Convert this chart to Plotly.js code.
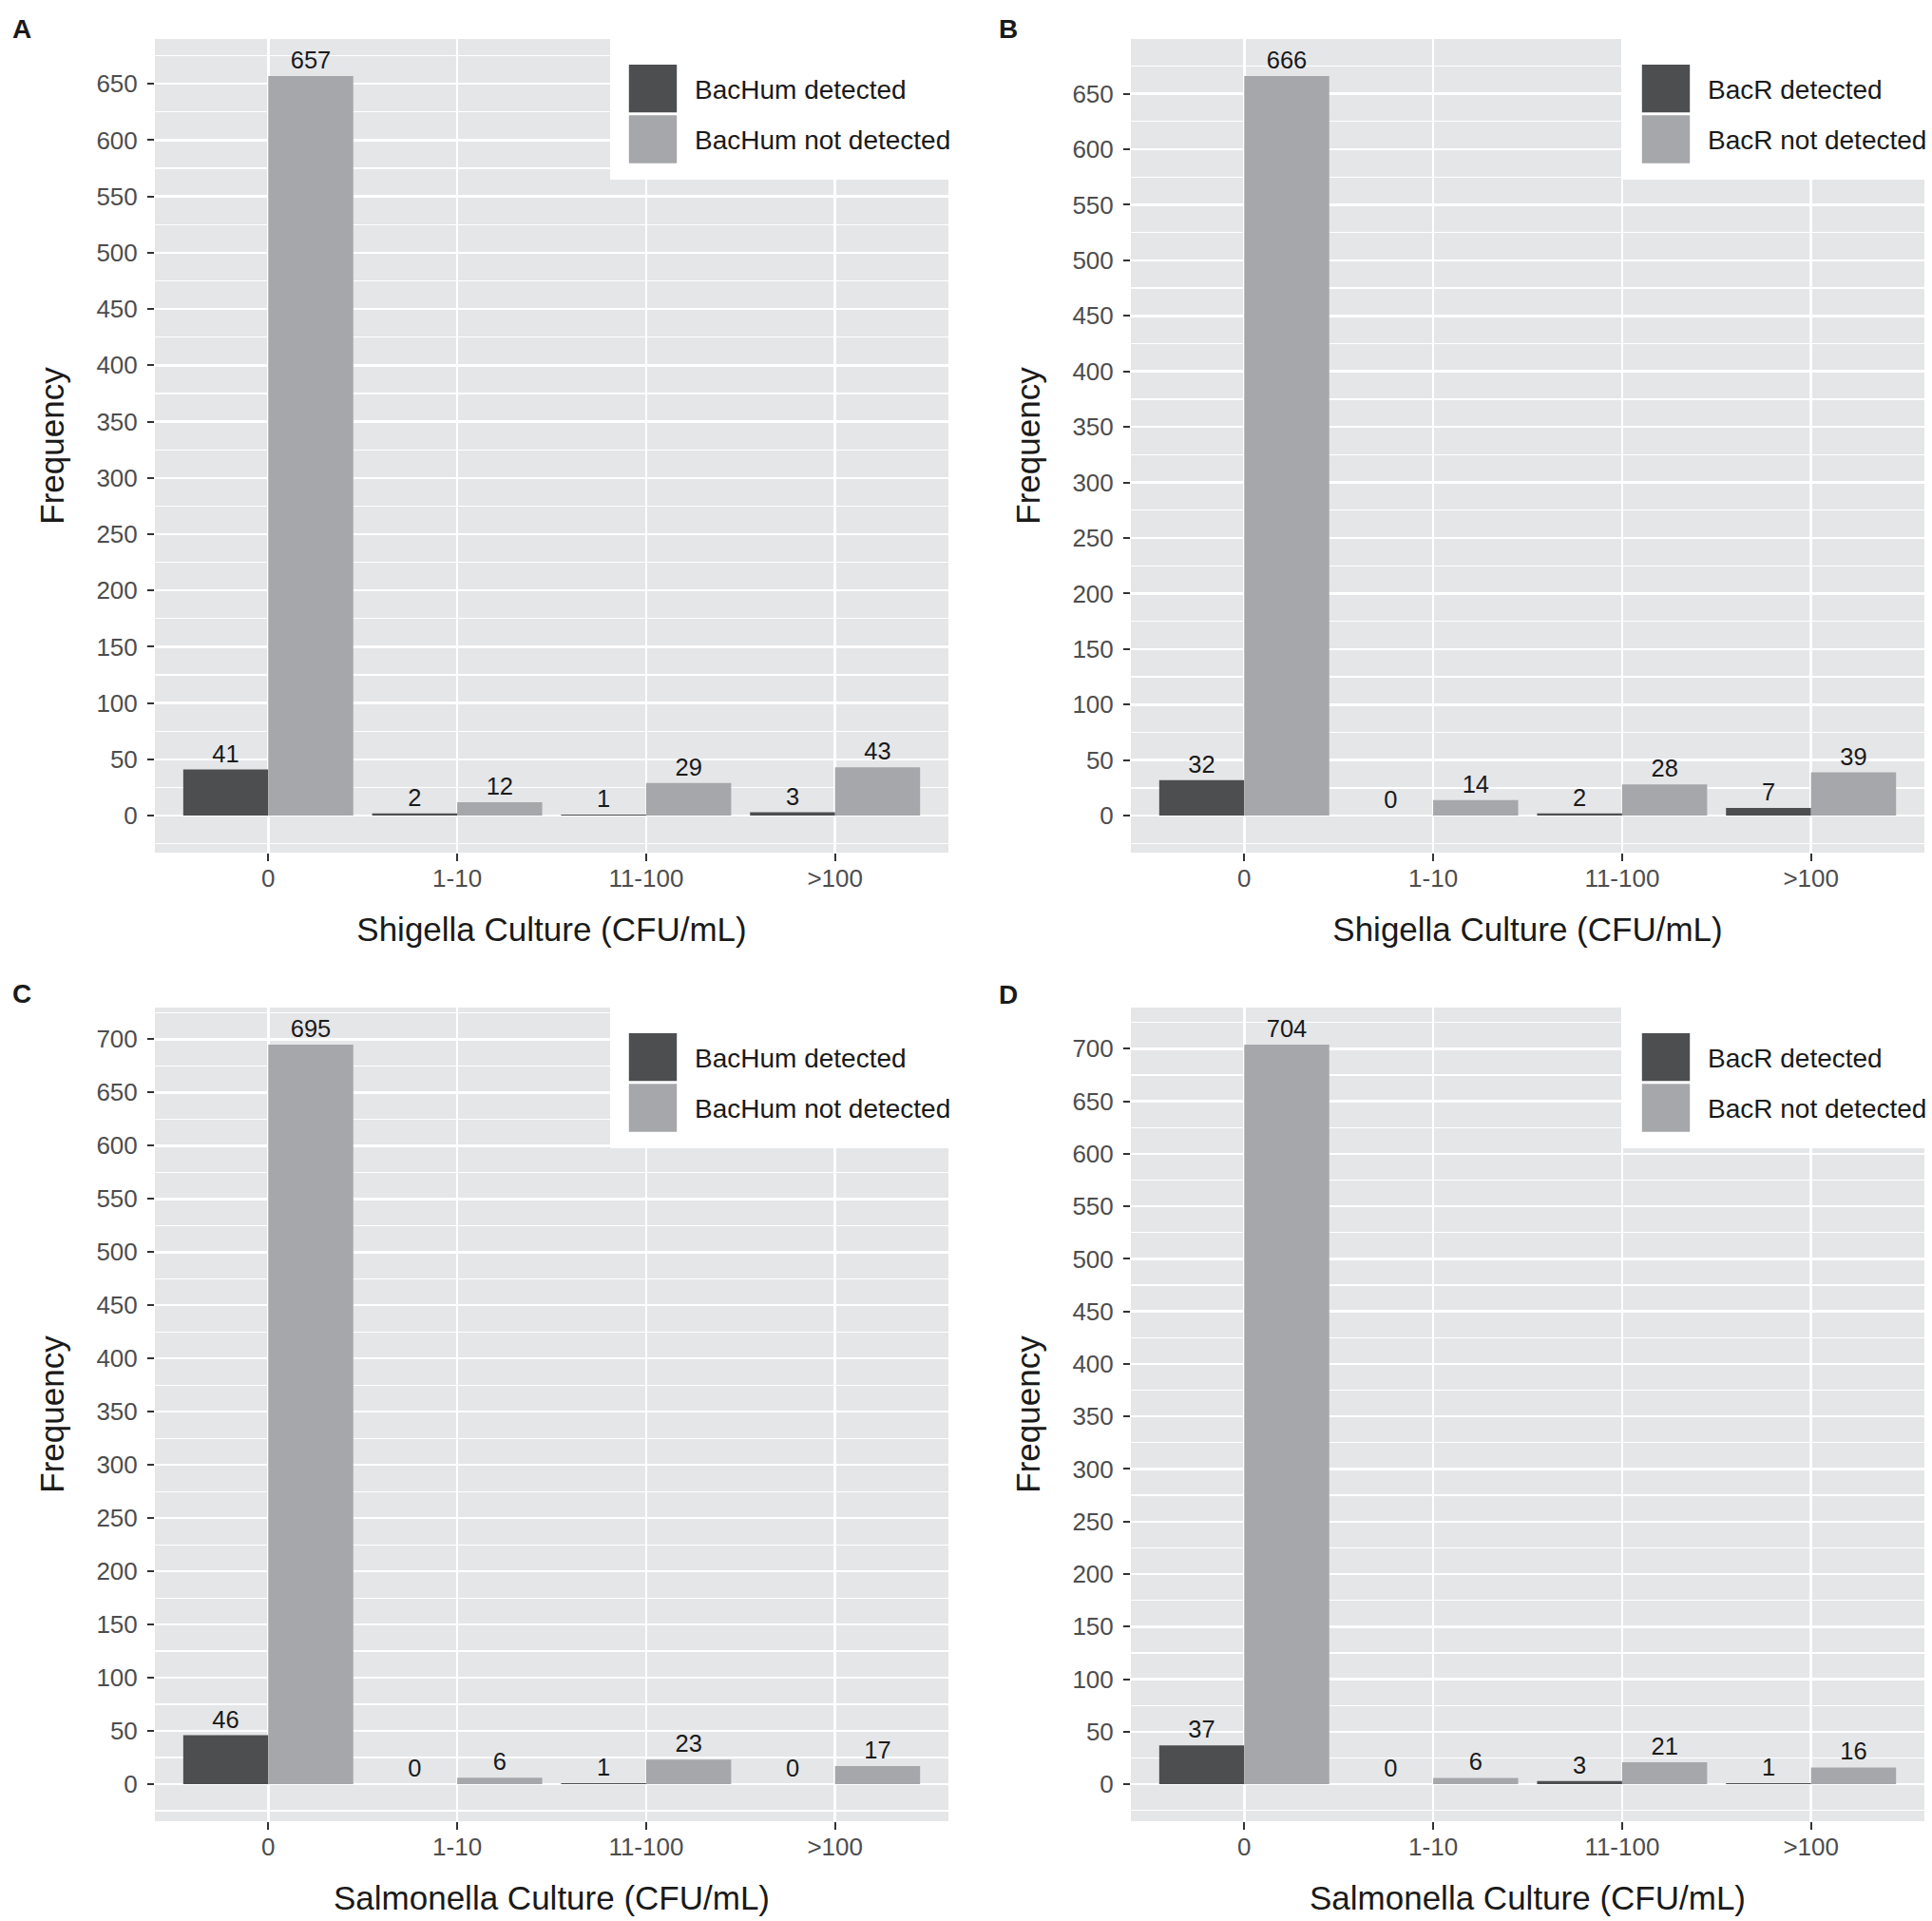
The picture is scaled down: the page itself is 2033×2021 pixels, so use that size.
<!DOCTYPE html>
<html>
<head>
<meta charset="utf-8">
<script src="https://cdn.plot.ly/plotly-3.0.1.min.js"></script>
<style>
  body { margin: 0; background: #fff; }
</style>
</head>
<body>
<div id="chart" style="width:2033px;height:2021px"></div>
<script>
// culture bins (x categories)
const cultureBins = ["0", "1-10", "11-100", ">100"];

// A: Shigella vs BacHum
const shigellaBacHumDetected = [41, 2, 1, 3];
const shigellaBacHumNotDetected = [657, 12, 29, 43];
// B: Shigella vs BacR
const shigellaBacRDetected = [32, 0, 2, 7];
const shigellaBacRNotDetected = [666, 14, 28, 39];
// C: Salmonella vs BacHum
const salmonellaBacHumDetected = [46, 0, 1, 0];
const salmonellaBacHumNotDetected = [695, 6, 23, 17];
// D: Salmonella vs BacR
const salmonellaBacRDetected = [37, 0, 3, 1];
const salmonellaBacRNotDetected = [704, 6, 21, 16];

const darkGrey = "#4d4e50";
const lightGrey = "#a6a7aa";
const FONT = "Liberation Sans, Arial, Helvetica, sans-serif";

function panelTraces(detected, notDetected, marker, n) {
  const suffix = n === 1 ? "" : String(n);
  const common = {
    type: "bar",
    x: cultureBins,
    xaxis: "x" + suffix,
    yaxis: "y" + suffix,
    legend: "legend" + suffix,
    textposition: "outside",
    cliponaxis: false,
    textfont: { size: 25.5, color: "#1a1a1a", family: FONT },
    hoverinfo: "skip",
  };
  return [
    { ...common, y: detected, text: detected.map(String), name: marker + " detected",
      legendgroup: "d" + n, marker: { color: darkGrey, line: { width: 0 } } },
    { ...common, y: notDetected, text: notDetected.map(String), name: marker + " not detected",
      legendgroup: "n" + n, marker: { color: lightGrey, line: { width: 0 } } },
  ];
}

function xAxis(domain, anchor, title) {
  return {
    domain: domain,
    anchor: anchor,
    type: "category",
    range: [-0.6, 3.6],
    showgrid: true,
    gridcolor: "#ffffff",
    gridwidth: 2.5,
    zeroline: false,
    showline: false,
    ticks: "outside",
    ticklen: 8,
    tickwidth: 2,
    tickcolor: "#333333",
    ticklabelstandoff: -4,
    tickfont: { size: 26, color: "#4d4d4d", family: FONT },
    title: { text: title, font: { size: 35, color: "#1a1a1a", family: FONT }, standoff: 27 },
    fixedrange: true,
  };
}

function yAxis(domain, anchor, maxVal) {
  return {
    domain: domain,
    anchor: anchor,
    range: [-0.05 * maxVal, 1.05 * maxVal],
    tick0: 0,
    dtick: 50,
    showgrid: true,
    gridcolor: "#ffffff",
    gridwidth: 2.5,
    minor: { dtick: 25, tick0: 0, showgrid: true, gridcolor: "#ffffff", gridwidth: 1.3 },
    zeroline: false,
    showline: false,
    ticks: "outside",
    ticklen: 7,
    tickwidth: 2,
    tickcolor: "#333333",
    ticklabelstandoff: 5,
    tickfont: { size: 26, color: "#4d4d4d", family: FONT },
    title: { text: "Frequency", font: { size: 35, color: "#1a1a1a", family: FONT }, standoff: 23 },
    fixedrange: true,
  };
}

// legend box hugs the panel's right edge, like ggplot's inside legend
function legendBox(xRight, yTop) {
  return {
    x: xRight, y: yTop, xanchor: "right", yanchor: "top",
    bgcolor: "#ffffff", bordercolor: "#ffffff", borderwidth: 17,
    font: { size: 28, color: "#1a1a1a", family: FONT },
    title: { text: "\u00a0", font: { size: 8 } },
    itemwidth: 62, traceorder: "grouped", tracegroupgap: 14,
  };
}

const leftX = [163 / 2033, 998 / 2033];
const rightX = [1190 / 2033, 2025 / 2033];
const topY = [1 - 897 / 2021, 1 - 41 / 2021];
const botY = [1 - 1916 / 2021, 1 - 1060 / 2021];

const data = [
  ...panelTraces(shigellaBacHumDetected, shigellaBacHumNotDetected, "BacHum", 1),
  ...panelTraces(shigellaBacRDetected, shigellaBacRNotDetected, "BacR", 2),
  ...panelTraces(salmonellaBacHumDetected, salmonellaBacHumNotDetected, "BacHum", 3),
  ...panelTraces(salmonellaBacRDetected, salmonellaBacRNotDetected, "BacR", 4),
];

const maxOf = (a, b) => Math.max(...a, ...b);

const letter = (txt, x, y) => ({
  text: "<b>" + txt + "</b>", xref: "paper", yref: "paper", x: x, y: y,
  xanchor: "center", yanchor: "middle", showarrow: false,
  font: { size: 28, color: "#1a1a1a", family: FONT },
});

const layout = {
  width: 2033,
  height: 2021,
  margin: { l: 0, r: 0, t: 0, b: 0, autoexpand: false },
  paper_bgcolor: "#ffffff",
  plot_bgcolor: "#e5e6e8",
  font: { family: FONT },
  barmode: "group",
  bargap: 0.1,
  bargroupgap: 0,
  showlegend: true,

  xaxis: xAxis(leftX, "y", "Shigella Culture (CFU/mL)"),
  yaxis: yAxis(topY, "x", maxOf(shigellaBacHumDetected, shigellaBacHumNotDetected)),
  xaxis2: xAxis(rightX, "y2", "Shigella Culture (CFU/mL)"),
  yaxis2: yAxis(topY, "x2", maxOf(shigellaBacRDetected, shigellaBacRNotDetected)),
  xaxis3: xAxis(leftX, "y3", "Salmonella Culture (CFU/mL)"),
  yaxis3: yAxis(botY, "x3", maxOf(salmonellaBacHumDetected, salmonellaBacHumNotDetected)),
  xaxis4: xAxis(rightX, "y4", "Salmonella Culture (CFU/mL)"),
  yaxis4: yAxis(botY, "x4", maxOf(salmonellaBacRDetected, salmonellaBacRNotDetected)),

  legend: legendBox((998 + 25) / 2033, topY[1]),
  legend2: legendBox((2025 + 25) / 2033, topY[1]),
  legend3: legendBox((998 + 25) / 2033, botY[1]),
  legend4: legendBox((2025 + 25) / 2033, botY[1]),

  annotations: [
    letter("A", 23 / 2033, 1 - 30 / 2021),
    letter("B", 1061 / 2033, 1 - 30 / 2021),
    letter("C", 23 / 2033, 1 - 1045 / 2021),
    letter("D", 1061 / 2033, 1 - 1046 / 2021),
  ],
};

// ggplot-style big legend keys: scale the swatch paths around their own centre
function bigKeys() {
  document.querySelectorAll(".legendpoints path").forEach((p) => {
    const t = p.getAttribute("data-base-transform") ?? (p.getAttribute("transform") || "");
    p.setAttribute("data-base-transform", t);
    p.setAttribute("transform", t + " translate(-8,0) scale(4.2)");
  });
}

const gd = document.getElementById("chart");
Plotly.newPlot(gd, data, layout, { staticPlot: true, displayModeBar: false }).then(() => {
  bigKeys();
  setTimeout(bigKeys, 0);
});
</script>
</body>
</html>
